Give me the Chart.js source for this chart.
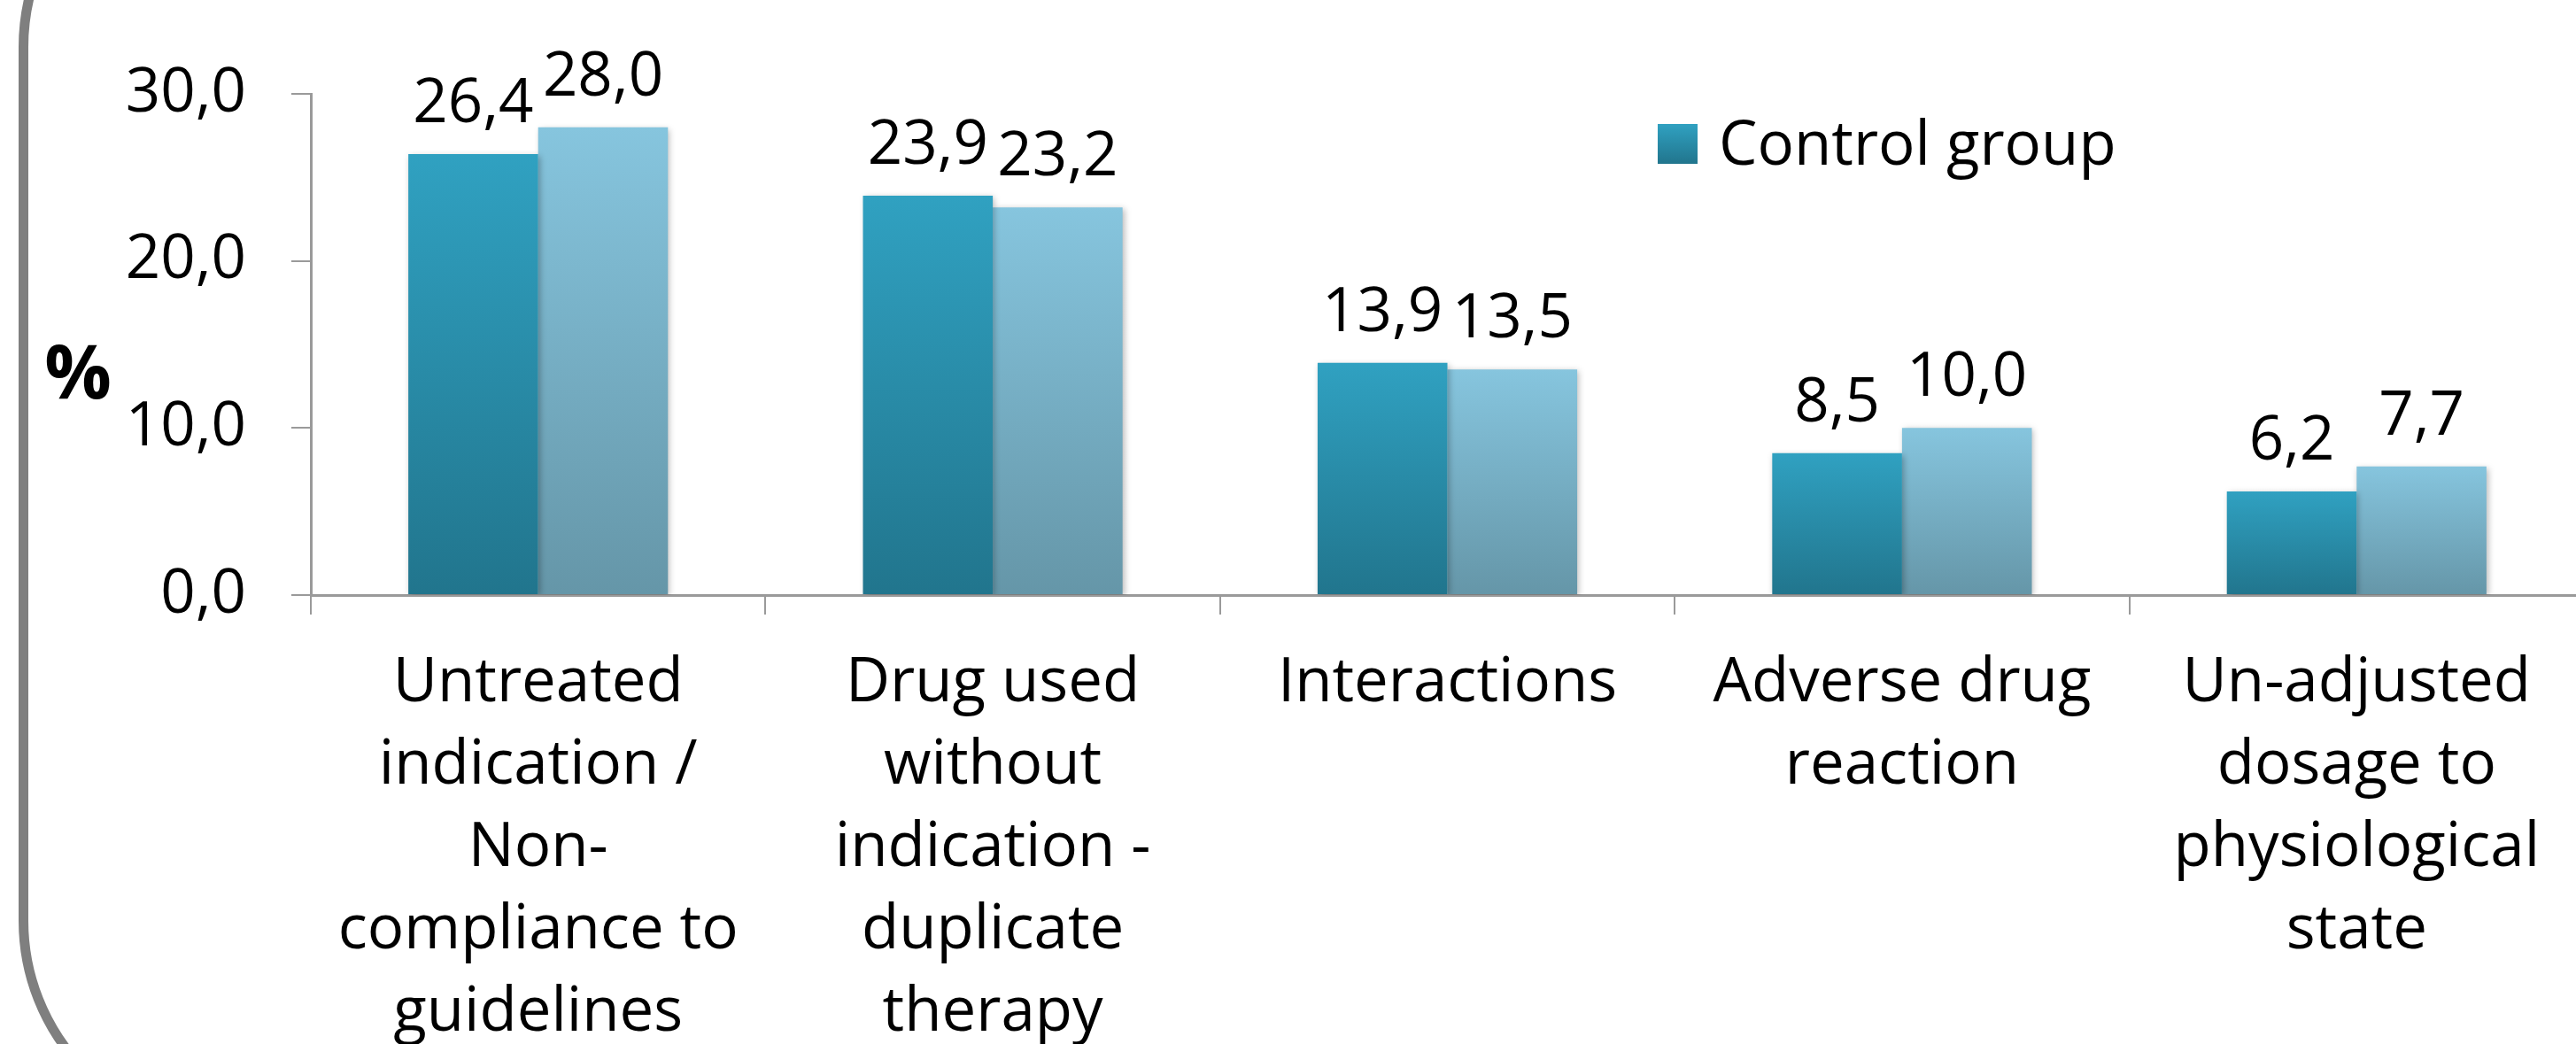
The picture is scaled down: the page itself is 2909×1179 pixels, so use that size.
<!DOCTYPE html>
<html><head><meta charset="utf-8">
<script src="https://cdn.jsdelivr.net/npm/chart.js@4.4.1/dist/chart.umd.min.js"></script>
<style>
html,body{margin:0;padding:0;background:#fff;overflow:hidden;width:2909px;height:1179px}
#c{position:absolute;left:0;top:0}
</style></head>
<body><canvas id="c" width="2960" height="1300"></canvas>
<script>
const categories = [
  ['Untreated','indication /','Non-','compliance to','guidelines'],
  ['Drug used','without','indication -','duplicate','therapy'],
  ['Interactions'],
  ['Adverse drug','reaction'],
  ['Un-adjusted','dosage to','physiological','state']
];
const seriesNames = ['Control group', 'Intervention group'];
const controlValues = [26.4, 23.9, 13.9, 8.5, 6.2];
const interventionValues = [28.0, 23.2, 13.5, 10.0, 7.7];
const yTickValues = [0, 10, 20, 30];
const yAxisTitle = '%';

const FONT = '"Open Sans", sans-serif';
const fmt = v => Number(v).toFixed(1).replace('.', ',');
const gradStops = [['#30a1c1', '#21758d'], ['#86c5de', '#6596a8']];

function barGradient(i) {
  return function (ctx) {
    const chart = ctx.chart;
    const ys = chart.scales.y;
    if (!ys || ctx.parsed == null || !chart.chartArea) return gradStops[i][0];
    const top = ys.getPixelForValue(ctx.parsed.y);
    const bot = ys.getPixelForValue(0);
    const g = chart.ctx.createLinearGradient(0, top, 0, bot);
    g.addColorStop(0, gradStops[i][0]);
    g.addColorStop(1, gradStops[i][1]);
    return g;
  };
}

const frame = {
  id: 'frame',
  beforeDraw(chart) {
    const c = chart.ctx;
    c.save();
    c.fillStyle = '#fff';
    c.fillRect(0, 0, chart.width, chart.height);
    c.strokeStyle = '#7f7f7f';
    c.lineWidth = 11;
    c.beginPath();
    c.roundRect(26.5, -187, 4000, 1467, 240);
    c.stroke();
    c.restore();
  }
};

const shadow = {
  id: 'shadow',
  beforeDatasetsDraw(chart) {
    const c = chart.ctx;
    c.save();
    c.shadowColor = 'rgba(0,0,0,0.28)';
    c.shadowBlur = 7;
    c.shadowOffsetX = 2;
    c.shadowOffsetY = 2;
  },
  afterDatasetsDraw(chart) {
    chart.ctx.restore();
  }
};

const labels = {
  id: 'valueLabels',
  afterDatasetsDraw(chart) {
    const c = chart.ctx;
    c.save();
    c.font = '69px ' + FONT;
    c.fillStyle = '#000';
    c.textAlign = 'center';
    c.textBaseline = 'alphabetic';
    chart.data.datasets.forEach((ds, di) => {
      chart.getDatasetMeta(di).data.forEach((bar, i) => {
        c.fillText(fmt(ds.data[i]), bar.x, bar.y - 36);
      });
    });
    c.restore();
  },
  afterDraw(chart) {
    const c = chart.ctx;
    const a = chart.chartArea;
    c.save();
    // legend (first series only)
    const lx = a.left + 1521, ly = 140;
    const g = c.createLinearGradient(0, ly, 0, ly + 45);
    g.addColorStop(0, gradStops[0][0]);
    g.addColorStop(1, gradStops[0][1]);
    c.fillStyle = g;
    c.fillRect(lx, ly, 45, 45);
    c.fillStyle = '#000';
    c.font = '69px ' + FONT;
    c.textAlign = 'left';
    c.textBaseline = 'alphabetic';
    c.fillText(chart.data.datasets[0].label, lx + 69, ly + 46);
    // y axis title
    c.font = 'bold 84px ' + FONT;
    c.textAlign = 'center';
    c.fillText(yAxisTitle, 88, 450);
    c.restore();
  }
};

function build() {
  new Chart(document.getElementById('c'), {
    type: 'bar',
    data: {
      labels: categories,
      datasets: [
        { label: seriesNames[0], data: controlValues, backgroundColor: barGradient(0), borderWidth: 0 },
        { label: seriesNames[1], data: interventionValues, backgroundColor: barGradient(1), borderWidth: 0 }
      ]
    },
    options: {
      responsive: false,
      animation: false,
      devicePixelRatio: 1,
      layout: { padding: { top: 106, right: 42, left: 0, bottom: 0 } },
      datasets: { bar: { categoryPercentage: 0.571, barPercentage: 1.0 } },
      plugins: { legend: { display: false }, tooltip: { enabled: false } },
      scales: {
        x: {
          afterFit(s) { s.height = 1300 - 672; },
          grid: { drawOnChartArea: false, tickLength: 22, color: '#9a9a9a', lineWidth: 2, offset: true },
          border: { display: true, color: '#9a9a9a', width: 3 },
          ticks: { color: '#000', font: { family: FONT, size: 69, lineHeight: 1.348 }, padding: 32, maxRotation: 0, autoSkip: false }
        },
        y: {
          min: 0, max: 30,
          afterFit(s) { s.width = 351; },
          afterBuildTicks(s) { s.ticks = yTickValues.map(v => ({ value: v })); },
          grid: { drawOnChartArea: false, tickLength: 22, color: '#9a9a9a', lineWidth: 2 },
          border: { display: true, color: '#9a9a9a', width: 3 },
          ticks: { color: '#000', font: { family: FONT, size: 69 }, padding: 51, callback: v => fmt(v) }
        }
      }
    },
    plugins: [frame, shadow, labels]
  });
}
if (document.fonts && document.fonts.load) {
  Promise.all([document.fonts.load('69px "Open Sans"'), document.fonts.load('bold 84px "Open Sans"')]).then(build, build);
} else build();
</script>
</body></html>
